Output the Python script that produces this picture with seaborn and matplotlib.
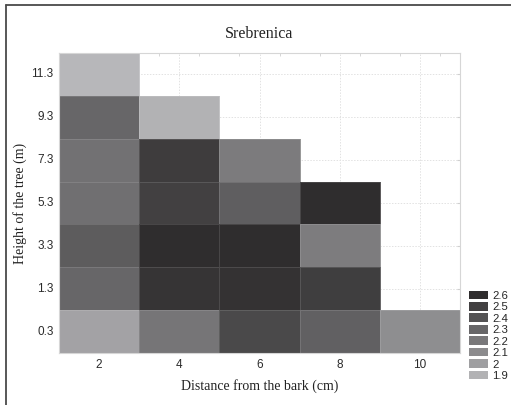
import numpy as np
import pandas as pd
import seaborn as sns
import matplotlib
matplotlib.use("Agg")
import matplotlib.pyplot as plt
from matplotlib.colors import LinearSegmentedColormap, Normalize
from matplotlib.patches import Patch
from matplotlib.lines import Line2D

# Distance from the bark (cm) and tree height (m)
distances = [2, 4, 6, 8, 10]
heights = ["11.3", "9.3", "7.3", "5.3", "3.3", "1.3", "0.3"]

# Mean values per height level, one list per distance column (None = no sample)
col_2 = [1.87, 2.30, 2.24, 2.25, 2.35, 2.30, 1.98]
col_4 = [None, 1.90, 2.52, 2.50, 2.60, 2.56, 2.22]
col_6 = [None, None, 2.19, 2.34, 2.60, 2.57, 2.45]
col_8 = [None, None, None, 2.60, 2.18, 2.51, 2.33]
col_10 = [None, None, None, None, None, None, 2.09]

legend_levels = [2.6, 2.5, 2.4, 2.3, 2.2, 2.1, 2.0, 1.9]
legend_labels = ["2.6", "2.5", "2.4", "2.3", "2.2", "2.1", "2", "1.9"]

df = pd.DataFrame(
    {d: c for d, c in zip(distances, [col_2, col_4, col_6, col_8, col_10])},
    index=heights,
).astype(float)

cmap = LinearSegmentedColormap.from_list("grays", ["#c4c4c7", "#2f2d2e"])
norm = Normalize(vmin=1.8, vmax=2.6)

sns.set_style("white")
plt.rcParams["font.family"] = ["Liberation Sans", "DejaVu Sans"]

fig = plt.figure(figsize=(5.11, 4.05), dpi=100)
ax = fig.add_axes([59 / 511, 52 / 405, 401 / 511, 300 / 405])

sns.heatmap(
    df, ax=ax, cmap=cmap, norm=norm, cbar=False,
    linewidths=0.4, linecolor=(1, 1, 1, 0.12),
)
ax.set_axisbelow(True)
ax.grid(True, linestyle=(0, (1.5, 1.5)), color="#e2e2e2", linewidth=0.7)

for s in ax.spines.values():
    s.set_visible(True)
    s.set_color("#d6d6d6")
    s.set_linewidth(0.8)

ax.set_xticks(np.arange(len(distances)) + 0.5)
ax.set_xticklabels([str(d) for d in distances], rotation=0)
ax.set_yticks(np.arange(len(heights)) + 0.5)
ax.set_yticklabels(heights, rotation=0)
ax.tick_params(axis="both", length=0, labelsize=8.5, colors="#2a2a2a", pad=4)
ax.tick_params(right=True, direction="in", length=2, color="#d0d0d0", which="major", axis="y")

# Small inward ticks along the top edge
ax.set_xticks(np.arange(0.25, len(distances), 0.5), minor=True)
ax.tick_params(axis="x", which="minor", top=True, bottom=False, direction="in",
               length=2, color="#d0d0d0")

serif = ["Liberation Serif", "DejaVu Serif"]
ax.set_title("Srebrenica", family=serif, fontsize=11.5, color="#222222", pad=11)
ax.set_xlabel("Distance from the bark (cm)", family=serif, fontsize=10, color="#222222", labelpad=6)
ax.set_ylabel("Height of the tree (m)", family=serif, fontsize=10, color="#222222", labelpad=3)

handles = [Patch(facecolor=cmap(norm(v)), edgecolor="none") for v in legend_levels]
fig.legend(handles, legend_labels, loc="lower left",
           bbox_to_anchor=(469 / 511, 24 / 405), frameon=False,
           fontsize=8.2, labelspacing=0.1, handlelength=1.7, handleheight=0.8,
           handletextpad=0.35, borderpad=0, borderaxespad=0)

# Outer frame around the figure panel
fig.add_artist(Line2D([6 / 511, 6 / 511], [0, 1 - 5 / 405], transform=fig.transFigure,
                      color="#4a4a4a", linewidth=1.3))
fig.add_artist(Line2D([6 / 511, 1], [1 - 5 / 405, 1 - 5 / 405], transform=fig.transFigure,
                      color="#4a4a4a", linewidth=1.3))

fig.savefig("out.png", dpi=100, facecolor="white")
